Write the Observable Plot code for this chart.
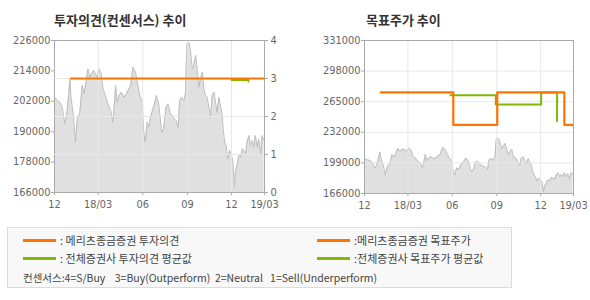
<!DOCTYPE html>
<html><head><meta charset="utf-8">
<script src="https://cdn.jsdelivr.net/npm/d3@7"></script>
<script src="https://cdn.jsdelivr.net/npm/@observablehq/plot@0.6"></script>
<style>
body{margin:0;background:#fff;width:590px;height:300px;position:relative;overflow:hidden;font-family:"Noto Sans CJK KR",sans-serif;}
.abs{position:absolute;}
.title{font-size:13px;font-weight:bold;color:#333;white-space:nowrap;line-height:14px;}
.leg{position:absolute;left:7px;top:227px;width:505px;height:61px;border:1px solid #dcdcdc;background:#f8f8f8;box-sizing:border-box;}
.sw{position:absolute;height:3px;}
.lt{position:absolute;font-size:11px;color:#444;white-space:pre;line-height:13px;}
</style></head>
<body>
<div class="abs title" style="left:54px;top:13px">투자의견(컨센서스) 추이</div>
<div class="abs title" style="left:366px;top:13px">목표주가 추이</div>
<div id="left" class="abs" style="left:0;top:0;width:295px;height:220px"></div>
<div id="right" class="abs" style="left:295px;top:0;width:295px;height:220px"></div>
<div class="leg" id="legend"></div>
<script>
// ---- data ----
const priceDates = ["2017-12-01","2017-12-07","2017-12-12","2017-12-17","2017-12-22","2017-12-26","2017-12-30","2018-01-02","2018-01-04","2018-01-09","2018-01-13","2018-01-17","2018-01-22","2018-01-27","2018-01-31","2018-02-03","2018-02-08","2018-02-12","2018-02-17","2018-02-20","2018-02-27","2018-03-02","2018-03-07","2018-03-11","2018-03-16","2018-03-21","2018-03-27","2018-03-31","2018-04-02","2018-04-06","2018-04-09","2018-04-13","2018-04-18","2018-04-23","2018-04-29","2018-05-03","2018-05-07","2018-05-12","2018-05-17","2018-05-22","2018-05-26","2018-05-31","2018-06-03","2018-06-06","2018-06-10","2018-06-14","2018-06-17","2018-06-24","2018-06-29","2018-07-04","2018-07-10","2018-07-14","2018-07-19","2018-07-23","2018-07-28","2018-08-01","2018-08-05","2018-08-09","2018-08-13","2018-08-16","2018-08-20","2018-08-25","2018-08-28","2018-08-31","2018-09-04","2018-09-07","2018-09-11","2018-09-14","2018-09-18","2018-09-21","2018-09-25","2018-09-28","2018-10-02","2018-10-05","2018-10-08","2018-10-12","2018-10-15","2018-10-19","2018-10-22","2018-10-26","2018-10-29","2018-11-01","2018-11-05","2018-11-08","2018-11-12","2018-11-14","2018-11-17","2018-11-20","2018-11-23","2018-11-27","2018-12-01","2018-12-04","2018-12-07","2018-12-09","2018-12-13","2018-12-16","2018-12-20","2018-12-23","2018-12-26","2018-12-30","2019-01-02","2019-01-06","2019-01-09","2019-01-13","2019-01-16","2019-01-19","2019-01-23","2019-01-26","2019-01-30","2019-02-02","2019-02-06"];
const priceValues = [203600,202300,201600,199700,193200,196400,204300,210900,203600,196400,185900,195200,197200,208200,205100,208200,214800,211500,213500,214200,211500,214800,213500,206900,204300,201000,198400,193800,197100,208200,201600,204300,205600,203600,205000,206900,208200,215500,213500,208200,204300,201600,189800,185900,193800,191800,195700,200300,204300,201000,189800,191100,199700,201000,197100,196400,195100,194400,191800,202300,203600,202300,205000,224700,225300,222700,214800,216100,220100,214800,207600,210900,213500,206900,204300,203600,199700,196400,204300,205600,201600,197700,203600,200300,196400,190500,185900,184600,179300,182600,180600,178000,168100,174000,177300,180600,179900,183300,182600,181300,185900,188500,184600,186500,183900,188500,183900,187200,181300,188500,186500];

const meritzOpinionDates = ["2018-01-04","2019-02-05"];
const meritzOpinionValues = [3,3];
const avgOpinionDates = ["2018-12-01","2019-01-05"];
const avgOpinionValues = [2.96,2.92];

const meritzTargetDates = ["2018-01-04","2018-06-03","2018-09-02","2019-01-19","2019-02-05"];
const meritzTargetValues = [275000,240000,275000,240000,240000];
const avgTargetDates = ["2018-05-28","2018-08-30","2018-12-02","2019-01-04"];
const avgTargetValues = [272000,262000,275000,244000];

const xDomain = ["2017-12-01","2019-02-07"];
const xTickDates = ["2017-12-01","2018-03-01","2018-06-01","2018-09-01","2018-12-01","2019-02-07"];
const xTickLabels = ["12","18/03","06","09","12","19/03"];
const leftPriceTicks = [166000,178000,190000,202000,214000,226000];
const opinionTicks = [0,1,2,3,4];
const rightPriceTicks = [166000,199000,232000,265000,298000,331000];

// ---- build ----
const P = (dates, vals) => dates.map((d,i)=>({date:new Date(d), value:vals[i]}));
const price = P(priceDates, priceValues);
const mOp = P(meritzOpinionDates, meritzOpinionValues);
const aOp = P(avgOpinionDates, avgOpinionValues);
const mTp = P(meritzTargetDates, meritzTargetValues);
const aTp = P(avgTargetDates, avgTargetValues);
const xd = xDomain.map(d=>new Date(d));
const xt = xTickDates.map(d=>new Date(d));
const labelOf = new Map(xt.map((d,i)=>[+d, xTickLabels[i]]));

const ORANGE = "#ff7300", GREEN = "#7fba00", GRID = "#e8e8e8", FRAME = "#aaaaaa", AREA="#e0e0e0", LINE="#bdbdbd";
const style = {fontFamily:"DejaVu Sans", fontSize:"9.8px", background:"transparent", overflow:"visible", color:"#666"};
const axisTxt = {fill:"#666", stroke:FRAME, label:null};
const num = d => String(d);

function pricePlot(mL, mR, mB, yDomain, yTicks, extra, gridYs){
  return Plot.plot({
    width:295, height:220, marginLeft:mL, marginRight:mR, marginTop:40, marginBottom:mB,
    style,
    x:{type:"utc", domain:xd},
    y:{domain:yDomain},
    marks:[
      Plot.areaY(price, {x:"date", y1:yDomain[0], y2:"value", fill:AREA}),
      Plot.lineY(price, {x:"date", y:"value", stroke:LINE, strokeWidth:1}),
      Plot.ruleX(xt.slice(1,-1), {stroke:GRID}),
      gridYs ? Plot.ruleY(gridYs, {stroke:GRID}) : null,
      ...extra,
      Plot.frame({stroke:FRAME}),
      Plot.axisY(yTicks, {anchor:"left", tickSize:3, tickPadding:1, tickFormat:num, ...axisTxt}),
      Plot.axisX(xt, {anchor:"bottom", tickSize:3, tickPadding:6, tickFormat:d=>labelOf.get(+d), ...axisTxt})
    ]
  });
}

const leftBox = document.getElementById("left");
const lp = pricePlot(54, 31, 28, [166000,226000], leftPriceTicks, [], null);
lp.style.position="absolute"; lp.style.left="0"; lp.style.top="0";
leftBox.appendChild(lp);

const op = Plot.plot({
  width:295, height:220, marginLeft:54, marginRight:31, marginTop:40, marginBottom:28,
  style,
  x:{type:"utc", domain:xd, axis:null},
  y:{domain:[0,4]},
  marks:[
    Plot.ruleY([1,2,3], {stroke:GRID}),
    Plot.line(aOp, {x:"date", y:"value", stroke:GREEN, strokeWidth:2, curve:"step-after"}),
    Plot.line(mOp, {x:"date", y:"value", stroke:ORANGE, strokeWidth:2.2, curve:"step-after"}),
    Plot.axisY(opinionTicks, {anchor:"right", tickSize:3, tickPadding:3, tickFormat:num, ...axisTxt})
  ]
});
op.style.position="absolute"; op.style.left="0"; op.style.top="0";
leftBox.appendChild(op);

const rp = pricePlot(69, 17, 27, [166000,331000], rightPriceTicks, [
  Plot.line(aTp, {x:"date", y:"value", stroke:GREEN, strokeWidth:2, curve:"step-after"}),
  Plot.line(mTp, {x:"date", y:"value", stroke:ORANGE, strokeWidth:2.2, curve:"step-after"})
], rightPriceTicks.slice(1,-1));
rp.style.position="absolute"; rp.style.left="0"; rp.style.top="0";
document.getElementById("right").appendChild(rp);

// ---- legend ----
const legendItems = [
  {x:15, y:12, color:ORANGE, text:": 메리츠종금증권 투자의견"},
  {x:15, y:30, color:GREEN, text:": 전체증권사 투자의견 평균값"},
  {x:309, y:12, color:ORANGE, text:":메리츠종금증권 목표주가"},
  {x:309, y:30, color:GREEN, text:":전체증권사 목표주가 평균값"}
];
const leg = document.getElementById("legend");
for (const it of legendItems){
  const s = document.createElement("div"); s.className="sw";
  s.style.left=it.x+"px"; s.style.top=(it.y-1)+"px"; s.style.width="33px"; s.style.background=it.color;
  leg.appendChild(s);
  const t = document.createElement("div"); t.className="lt";
  t.style.left=(it.x+37)+"px"; t.style.top=(it.y-6)+"px"; t.textContent=it.text;
  leg.appendChild(t);
}
const note = document.createElement("div"); note.className="lt";
note.style.left="15px"; note.style.top="43px"; note.style.fontSize="10.5px";
note.textContent="컨센서스:4=S/Buy    3=Buy(Outperform)  2=Neutral   1=Sell(Underperform)";
leg.appendChild(note);
</script>
</body></html>
